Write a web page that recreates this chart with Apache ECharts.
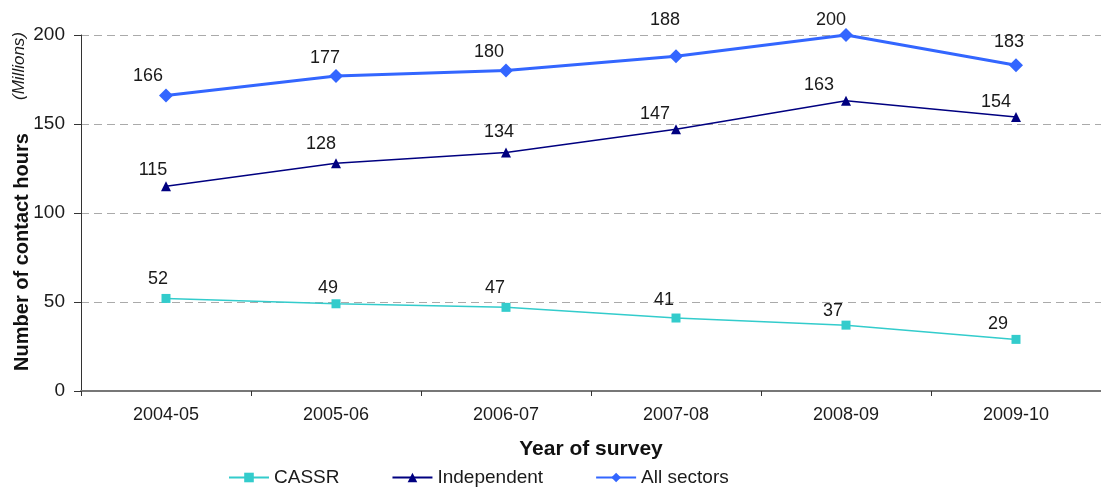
<!DOCTYPE html>
<html>
<head>
<meta charset="utf-8">
<script src="https://cdn.jsdelivr.net/npm/echarts@6/dist/echarts.min.js"></script>
<style>
  * { margin: 0; padding: 0; }
  body { background: #fff; }
  #main { width: 1101px; height: 487px; }
</style>
</head>
<body>
<div id="main"></div>
<script>
  // data
  var years = ['2004-05', '2005-06', '2006-07', '2007-08', '2008-09', '2009-10'];
  var cassr = [52, 49, 47, 41, 37, 29];
  var independent = [115, 128, 134, 147, 163, 154];
  var allSectors = [166, 177, 180, 188, 200, 183];

  // where each value label sits relative to its marker (px)
  var cassrLabelShift = [[-8, -19], [-8, -16], [-11, -19], [-12, -18], [-13, -14], [-18, -15]];
  var indepLabelShift = [[-13, -16], [-15, -19], [-7, -20], [-21, -15], [-27, -16], [-20, -15]];
  var allLabelShift = [[-18, -19], [-11, -18], [-17, -19], [-11, -36], [-15, -15], [-7, -23]];

  var font = 'Liberation Sans, Arial, sans-serif';

  function withLabels(values, shifts) {
    return values.map(function (v, i) {
      return { value: v, label: { offset: shifts[i] } };
    });
  }

  var labelStyle = {
    show: true,
    position: 'inside',
    fontFamily: font,
    fontSize: 18,
    color: '#1a1a1a'
  };

  var chart = echarts.init(document.getElementById('main'));
  chart.setOption({
    animation: false,
    textStyle: { fontFamily: font },
    grid: { left: 81, right: -6, top: 35, bottom: 96, containLabel: false },
    legend: {
      top: 463,
      left: 223,
      itemWidth: 40,
      itemHeight: 12,
      itemGap: 52,
      textStyle: { fontFamily: font, fontSize: 19, color: '#1a1a1a' },
      data: ['CASSR', 'Independent', 'All sectors']
    },
    xAxis: {
      type: 'category',
      data: years,
      boundaryGap: true,
      name: 'Year of survey',
      nameLocation: 'middle',
      nameGap: 48,
      nameTextStyle: { fontFamily: font, fontSize: 21, fontWeight: 'bold', color: '#111' },
      axisLine: { lineStyle: { color: '#777', width: 2 } },
      axisTick: { show: true, length: 5, lineStyle: { color: '#333' } },
      axisLabel: { fontFamily: font, fontSize: 18, color: '#1a1a1a', margin: 15 }
    },
    yAxis: {
      type: 'value',
      min: 0,
      max: 200,
      interval: 50,
      axisLine: { show: true, lineStyle: { color: '#333', width: 1 } },
      axisTick: { show: true, inside: false, length: 7, lineStyle: { color: '#333' } },
      axisLabel: { fontFamily: font, fontSize: 19, color: '#1a1a1a', margin: 16 },
      splitLine: { show: true, lineStyle: { color: '#aaa', type: [8, 5], width: 1 } }
    },
    graphic: [
      {
        type: 'text',
        x: 22, y: 252,
        rotation: Math.PI / 2,
        style: {
          text: 'Number of contact hours',
          font: 'bold 20px ' + font,
          fill: '#111',
          align: 'center',
          verticalAlign: 'middle'
        }
      },
      {
        type: 'text',
        x: 19, y: 66,
        rotation: Math.PI / 2,
        style: {
          text: '(Millions)',
          font: 'italic 17px ' + font,
          fill: '#1a1a1a',
          align: 'center',
          verticalAlign: 'middle'
        }
      }
    ],
    series: [
      {
        name: 'CASSR',
        type: 'line',
        data: withLabels(cassr, cassrLabelShift),
        symbol: 'rect',
        symbolSize: 9,
        itemStyle: { color: '#33CCCC' },
        lineStyle: { color: '#33CCCC', width: 1.5 },
        label: labelStyle
      },
      {
        name: 'Independent',
        type: 'line',
        data: withLabels(independent, indepLabelShift),
        symbol: 'triangle',
        symbolSize: 10,
        itemStyle: { color: '#000080' },
        lineStyle: { color: '#000080', width: 1.5 },
        label: labelStyle
      },
      {
        name: 'All sectors',
        type: 'line',
        data: withLabels(allSectors, allLabelShift),
        symbol: 'diamond',
        symbolSize: 14,
        itemStyle: { color: '#3366FF' },
        lineStyle: { color: '#3366FF', width: 3 },
        label: labelStyle
      }
    ]
  });
</script>
</body>
</html>
